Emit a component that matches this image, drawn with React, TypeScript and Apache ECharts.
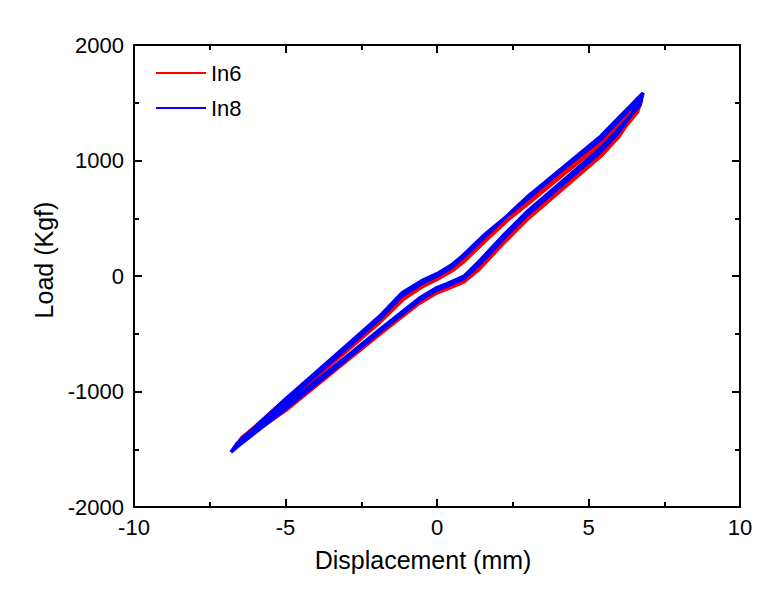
import React, { useEffect, useRef } from "react";
import * as echarts from "echarts";

// Displacement (mm), Load (Kgf) — one closed hysteresis cycle per list
const in6Cycle1: number[][] = [
  [-6.6, -1460], [-6.45, -1400], [-5.0, -1100], [-3.0, -655], [-1.9, -405], [-1.1, -200], [-0.5, -95], [0, -30], [0.5, 45], [0.85, 115], [1.7, 330], [3.0, 645], [4.2, 905], [5.4, 1165], [6.75, 1525],
  [6.62, 1420], [6.0, 1235], [5.4, 1065], [4.2, 795], [3.0, 525], [2.2, 315], [1.4, 90], [0.9, -30], [0.3, -95], [0, -125], [-0.6, -220], [-1.8, -465], [-3.0, -715], [-5.0, -1140], [-6.6, -1460],
];
const in6Cycle2: number[][] = [
  [-6.5, -1440], [-6.35, -1380], [-5.0, -1085], [-3.0, -640], [-1.9, -390], [-1.1, -185], [-0.5, -80], [0, -15], [0.5, 60], [0.85, 130], [1.7, 340], [3.0, 635], [4.2, 895], [5.4, 1150], [6.65, 1495],
  [6.55, 1400], [6.0, 1220], [5.4, 1050], [4.2, 780], [3.0, 510], [2.2, 300], [1.4, 75], [0.9, -40], [0.3, -105], [0, -135], [-0.6, -230], [-1.8, -475], [-3.0, -730], [-5.0, -1155], [-6.5, -1440],
];
const in6Cycle3: number[][] = [
  [-6.4, -1420], [-6.25, -1360], [-5.0, -1070], [-3.0, -625], [-1.9, -375], [-1.1, -170], [-0.5, -65], [0, 0], [0.5, 75], [0.85, 145], [1.7, 350], [3.0, 625], [4.2, 885], [5.4, 1135], [6.55, 1465],
  [6.45, 1380], [6.0, 1205], [5.4, 1035], [4.2, 765], [3.0, 495], [2.2, 285], [1.4, 60], [0.9, -50], [0.3, -115], [0, -145], [-0.6, -240], [-1.8, -485], [-3.0, -740], [-5.0, -1165], [-6.4, -1420],
];

const in8Cycle1: number[][] = [
  [-6.8, -1525], [-6.6, -1450], [-5.0, -1090], [-3.0, -630], [-1.9, -375], [-1.15, -170], [-0.5, -65], [0, 0], [0.45, 70], [0.8, 145], [1.6, 345], [3.0, 690], [4.2, 950], [5.4, 1210], [6.8, 1585],
  [6.7, 1480], [6.0, 1275], [5.4, 1105], [4.2, 835], [3.0, 565], [2.2, 355], [1.4, 130], [0.9, 0], [0.3, -70], [0, -100], [-0.6, -195], [-1.8, -445], [-3.0, -700], [-5.0, -1125], [-6.8, -1525],
];
const in8Cycle2: number[][] = [
  [-6.7, -1500], [-6.5, -1425], [-5.0, -1075], [-3.0, -615], [-1.9, -360], [-1.15, -155], [-0.5, -50], [0, 10], [0.45, 80], [0.8, 155], [1.6, 355], [3.0, 680], [4.2, 945], [5.4, 1195], [6.65, 1545],
  [6.55, 1445], [6.0, 1260], [5.4, 1090], [4.2, 820], [3.0, 550], [2.2, 340], [1.4, 115], [0.9, -10], [0.3, -80], [0, -110], [-0.6, -205], [-1.8, -455], [-3.0, -715], [-5.0, -1140], [-6.7, -1500],
];
const in8Cycle3: number[][] = [
  [-6.6, -1480], [-6.4, -1405], [-5.0, -1065], [-3.0, -605], [-1.9, -350], [-1.15, -145], [-0.5, -40], [0, 20], [0.45, 90], [0.8, 165], [1.6, 365], [3.0, 670], [4.2, 935], [5.4, 1180], [6.55, 1500],
  [6.45, 1410], [6.0, 1245], [5.4, 1075], [4.2, 805], [3.0, 535], [2.2, 325], [1.4, 100], [0.9, -20], [0.3, -90], [0, -120], [-0.6, -215], [-1.8, -465], [-3.0, -725], [-5.0, -1150], [-6.6, -1480],
];

const seriesNames = ["In6", "In8"];
const seriesColors = ["#ff0000", "#0000ff"];
const xName = "Displacement (mm)";
const yName = "Load (Kgf)";

const FONT = "'Liberation Sans', Arial, Helvetica, sans-serif";

export default function App() {
  const ref = useRef<HTMLDivElement>(null);
  useEffect(() => {
    if (!ref.current) return;
    const chart = echarts.init(ref.current, undefined, { renderer: "svg" });
    const in6 = [...in6Cycle1, ...in6Cycle2, ...in6Cycle3];
    const in8 = [...in8Cycle1, ...in8Cycle2, ...in8Cycle3];

    const axisCommon = {
      axisLine: { show: true, onZero: false, lineStyle: { color: "#000", width: 2 } },
      axisTick: { show: true, inside: true, length: 8, lineStyle: { color: "#000", width: 2 } },
      minorTick: { show: true, splitNumber: 2, length: 5, lineStyle: { color: "#000", width: 2 } },
      splitLine: { show: false },
    };

    chart.setOption({
      animation: false,
      backgroundColor: "#fff",
      grid: { left: 134, right: 43, top: 45, bottom: 89, containLabel: false },
      legend: {
        orient: "vertical",
        left: 151,
        top: 57,
        itemWidth: 50,
        itemHeight: 2,
        itemGap: 13,
        textStyle: { fontFamily: FONT, fontSize: 22, color: "#000" },
        data: seriesNames.map((n) => ({ name: n, icon: "rect" })),
      },
      xAxis: [
        {
          type: "value",
          min: -10,
          max: 10,
          interval: 5,
          position: "bottom",
          ...axisCommon,
          axisLabel: { fontFamily: FONT, fontSize: 22, color: "#000", margin: 9, formatter: (v: number) => String(v) },
          name: xName,
          nameLocation: "middle",
          nameGap: 40,
          nameTextStyle: { fontFamily: FONT, fontSize: 25, color: "#000", padding: [0, 28, 0, 0] },
        },
        {
          type: "value",
          min: -10,
          max: 10,
          interval: 5,
          position: "top",
          ...axisCommon,
          axisLabel: { show: false },
        },
      ],
      yAxis: [
        {
          type: "value",
          min: -2000,
          max: 2000,
          interval: 1000,
          position: "left",
          ...axisCommon,
          axisLabel: { fontFamily: FONT, fontSize: 22, color: "#000", margin: 10, formatter: (v: number) => String(v) },
          name: yName,
          nameLocation: "middle",
          nameGap: 70,
          nameTextStyle: { fontFamily: FONT, fontSize: 25, color: "#000", padding: [0, 0, 0, 32] },
        },
        {
          type: "value",
          min: -2000,
          max: 2000,
          interval: 1000,
          position: "right",
          ...axisCommon,
          axisLabel: { show: false },
        },
      ],
      series: [
        {
          name: seriesNames[0],
          type: "line",
          xAxisIndex: 0,
          yAxisIndex: 0,
          data: in6,
          showSymbol: false,
          symbol: "none",
          color: seriesColors[0],
          lineStyle: { color: seriesColors[0], width: 3.5 },
        },
        {
          name: seriesNames[1],
          type: "line",
          xAxisIndex: 0,
          yAxisIndex: 0,
          data: in8,
          showSymbol: false,
          symbol: "none",
          color: seriesColors[1],
          lineStyle: { color: seriesColors[1], width: 3.5 },
        },
      ],
    });
    return () => chart.dispose();
  }, []);
  return (
    <div
      ref={ref}
      style={{ position: "absolute", left: 0, top: 0, width: 783, height: 596, background: "#fff" }}
    />
  );
}
